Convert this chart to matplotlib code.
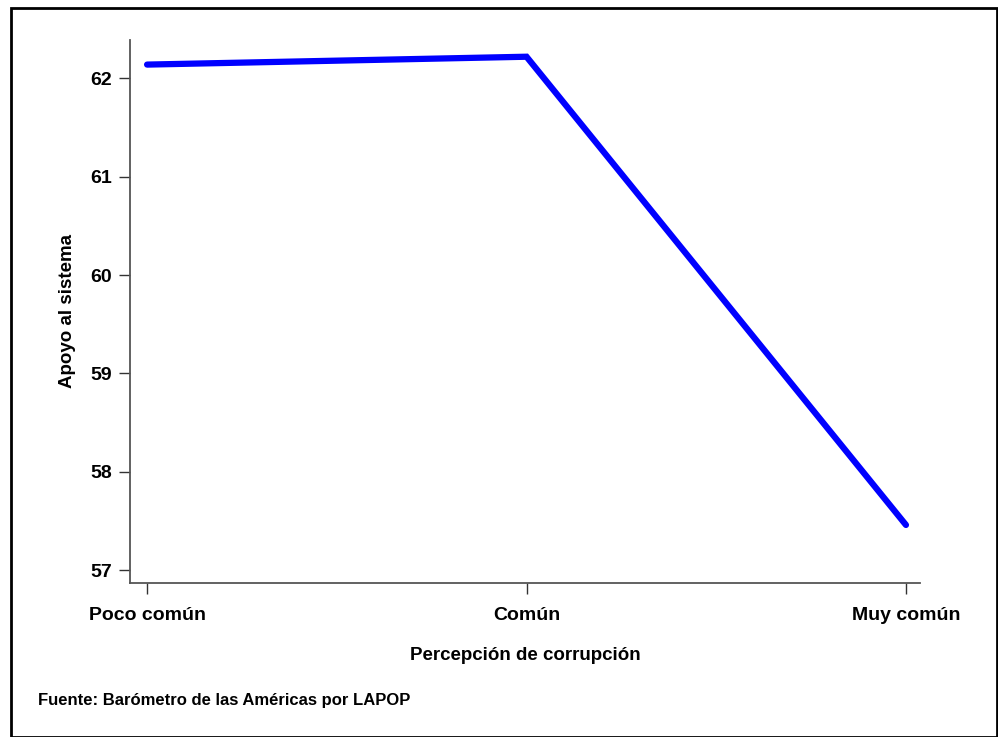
import matplotlib.pyplot as plt
from matplotlib.patches import Rectangle

# data
categories = ['Poco común', 'Común', 'Muy común']
apoyo = [62.14, 62.22, 57.46]
yticks = [57, 58, 59, 60, 61, 62]

plt.rcParams['font.family'] = ['Liberation Sans', 'DejaVu Sans']
plt.rcParams['font.weight'] = 'bold'

fig = plt.figure(figsize=(9.98, 7.37), dpi=100)
W, H = 998, 737
ax = fig.add_axes([130 / W, 1 - 583 / H, (920 - 130) / W, (583 - 40) / H])

x = list(range(len(categories)))
ax.plot(x, apoyo, color='#0000ff', linewidth=4.5, solid_capstyle='round', solid_joinstyle='miter')

ax.set_xlim(-0.045, 2.037)
ax.set_ylim(56.87, 62.39)
ax.set_xticks(x)
ax.set_xticklabels(categories, fontsize=14, fontweight='bold')
ax.set_yticks(yticks)
ax.set_yticklabels([str(v) for v in yticks], fontsize=14, fontweight='bold')
ax.tick_params(axis='both', length=8, width=1, color='#333333', pad=5)
ax.tick_params(axis='x', pad=9)

for side in ['top', 'right']:
    ax.spines[side].set_visible(False)
for side in ['left', 'bottom']:
    ax.spines[side].set_color('#555555')
    ax.spines[side].set_linewidth(1.3)

ax.set_ylabel('Apoyo al sistema', fontsize=13.5, fontweight='bold', labelpad=10)
ax.set_xlabel('Percepción de corrupción', fontsize=13.5, fontweight='bold', labelpad=17)

fig.text(38 / W, 1 - 700 / H, 'Fuente: Barómetro de las Américas por LAPOP',
         fontsize=12, fontweight='bold', va='center', ha='left')

# outer frame
fig.patches.append(Rectangle((11 / W, 0), (997 - 11) / W, 1 - 8 / H,
                             transform=fig.transFigure, fill=False,
                             edgecolor='black', linewidth=2))

fig.savefig('out.png', dpi=100)
